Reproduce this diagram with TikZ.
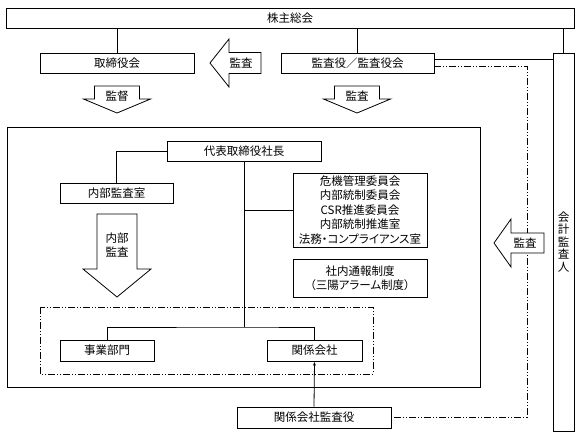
\documentclass[tikz,border=0pt]{standalone}
\usepackage{fontspec}
\setmainfont{Noto Sans CJK JP}
\newfontfamily\propfont{Noto Sans CJK JP}[RawFeature=+palt]
\usetikzlibrary{arrows.meta}

\tikzset{
    box/.style={draw, fill=white, inner sep=0pt, minimum height=20, align=center},
    dashdot/.style={dash pattern=on 7pt off 2pt on 1pt off 2pt on 1pt off 2pt},
    fatarrow/.style={draw, fill=white},
}

\begin{document}
\begin{tikzpicture}[x=1pt, y=-1pt, line width=0.8pt, font=\fontsize{11.5}{14.5}\selectfont]
\useasboundingbox (0,0) rectangle (580,440);

% frames
\draw (7,127) rectangle (480,387);
\draw[dashdot] (40,307) rectangle (373,374);

% top row
\node[box, minimum width=568] (soukai) at (290,18) {株主総会};
\node[box, minimum width=154] (torishimari) at (117,63.5) {取締役会};
\node[box, minimum width=153] (kansayaku) at (357.5,63.5) {監査役／監査役会};
\node[box, minimum width=21, minimum height=378, font=\fontsize{11.5}{12.5}\selectfont]
    (kaikei) at (563.5,242) {会\\計\\監\\査\\人};

\draw (soukai.south -| torishimari.north) -- (torishimari.north);
\draw (soukai.south -| kansayaku.north) -- (kansayaku.north);
\draw (soukai.south -| kaikei.north) -- (kaikei.north);
\draw (kansayaku.east |- 0,59) -- (kaikei.west |- 0,59);

% inside the company
\node[box, minimum width=154] (ceo) at (244,151) {代表取締役社長};
\node[box, minimum width=113] (naibu) at (116.5,193) {内部監査室};
\node[box, minimum width=134, minimum height=74] (iinkai) at (360,210)
    {危機管理委員会\\内部統制委員会\\CSR推進委員会\\内部統制推進室\\{\propfont 法務・コンプライアンス室}};
\node[box, minimum width=134, minimum height=38] (tsuhou) at (360,278)
    {社内通報制度\\{\propfont （三陽アラーム制度）}};
\node[box, minimum width=94, minimum height=21] (jigyou) at (107,350.5) {事業部門};
\node[box, minimum width=95, minimum height=21] (kankei) at (314.5,350.5) {関係会社};
\node[box, minimum width=154, minimum height=21] (kankeikansa) at (314,417.5) {関係会社監査役};

\coordinate (split) at (ceo.south |- 0,327);
\coordinate (corner) at (527,417.5);

\draw (ceo.west) -| (naibu.north);
\draw (ceo.south) -- (split);
\draw (jigyou.north) |- (split) -| (kankei.north);
\draw (ceo.south |- iinkai.west) -- (iinkai.west);
\draw[-{Latex[length=4pt,width=3pt]}] (kankeikansa.north) -- (kankei.south);
\draw[dashdot] (kansayaku.east |- 0,66) -| (corner) -- (kankeikansa.east);

% arrows
\begin{scope}[shift={(210,63)}]
    \draw[fatarrow] (0,0) -- (19,-24) -- (19,-10.5) -- (51,-10.5) -- (51,10.5) -- (19,10.5) -- (19,24) -- cycle;
    \node (kansaA) at (31,0) {監査};
\end{scope}
\begin{scope}[shift={(494,243)}]
    \draw[fatarrow] (0,0) -- (17,-24) -- (17,-10) -- (50,-10) -- (50,10) -- (17,10) -- (17,24) -- cycle;
    \node (kansaB) at (31,0) {監査};
\end{scope}
\begin{scope}[shift={(117,0)}]
    \draw[fatarrow] (-22.5,86) -- (22.5,86) -- (22.5,99) -- (33.5,99) -- (0,113) -- (-33.5,99) -- (-22.5,99) -- cycle;
    \node (kantoku) at (0,96) {監督};
\end{scope}
\begin{scope}[shift={(357,0)}]
    \draw[fatarrow] (-22.5,86) -- (22.5,86) -- (22.5,99) -- (33.5,99) -- (0,113) -- (-33.5,99) -- (-22.5,99) -- cycle;
    \node (kansaC) at (0,96) {監査};
\end{scope}
\begin{scope}[shift={(117,0)}]
    \draw[fatarrow] (-20,214) -- (20,214) -- (20,269) -- (34,269) -- (0,297) -- (-34,269) -- (-20,269) -- cycle;
    \node[align=center] (naibukansa) at (0,245) {内部\\監査};
\end{scope}
\end{tikzpicture}
\end{document}
